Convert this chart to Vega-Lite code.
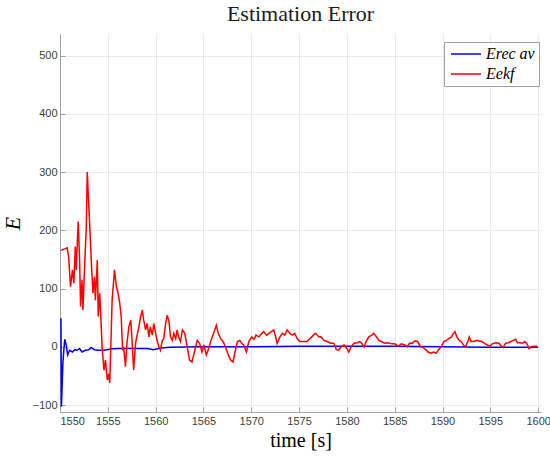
{
  "$schema": "https://vega.github.io/schema/vega-lite/v6.json",
  "width": 481,
  "height": 378,
  "autosize": {"type": "none"},
  "padding": {"left": 60, "top": 34, "right": 9, "bottom": 47},
  "background": "white",
  "title": {"text": "Estimation Error", "font": "Liberation Serif", "fontSize": 22, "fontWeight": "normal", "color": "#1a1a1a", "anchor": "middle", "offset": 8},
  "data": {"values": [
    {"t":1550.1,"v":49,"s":"Erec av"},{"t":1550.15,"v":-103,"s":"Erec av"},{"t":1550.3,"v":-29,"s":"Erec av"},{"t":1550.4,"v":-6,"s":"Erec av"},{"t":1550.5,"v":13,"s":"Erec av"},{"t":1550.65,"v":3,"s":"Erec av"},{"t":1550.8,"v":-14,"s":"Erec av"},{"t":1551.0,"v":-6,"s":"Erec av"},{"t":1551.3,"v":-9,"s":"Erec av"},{"t":1551.55,"v":-5,"s":"Erec av"},{"t":1551.8,"v":-6,"s":"Erec av"},{"t":1552.05,"v":-3,"s":"Erec av"},{"t":1552.3,"v":-9,"s":"Erec av"},{"t":1552.65,"v":-6,"s":"Erec av"},{"t":1553.0,"v":-5,"s":"Erec av"},{"t":1553.25,"v":-1,"s":"Erec av"},{"t":1553.6,"v":-5,"s":"Erec av"},{"t":1554.05,"v":-6,"s":"Erec av"},{"t":1554.6,"v":-6,"s":"Erec av"},{"t":1555.3,"v":-4,"s":"Erec av"},{"t":1556.0,"v":-3,"s":"Erec av"},{"t":1557.4,"v":-3,"s":"Erec av"},{"t":1559.1,"v":-3,"s":"Erec av"},{"t":1559.8,"v":-5,"s":"Erec av"},{"t":1560.5,"v":-2,"s":"Erec av"},{"t":1561.55,"v":-1,"s":"Erec av"},{"t":1564.35,"v":0,"s":"Erec av"},{"t":1570,"v":0,"s":"Erec av"},{"t":1575,"v":1,"s":"Erec av"},{"t":1580,"v":1,"s":"Erec av"},{"t":1585,"v":1,"s":"Erec av"},{"t":1590,"v":0,"s":"Erec av"},{"t":1595,"v":-1,"s":"Erec av"},{"t":1600,"v":-1,"s":"Erec av"},
    {"t":1550.15,"v":165,"s":"Eekf"},{"t":1550.3,"v":167,"s":"Eekf"},{"t":1550.5,"v":168,"s":"Eekf"},{"t":1550.75,"v":170,"s":"Eekf"},{"t":1550.9,"v":155,"s":"Eekf"},{"t":1551.1,"v":103,"s":"Eekf"},{"t":1551.3,"v":132,"s":"Eekf"},{"t":1551.45,"v":109,"s":"Eekf"},{"t":1551.6,"v":172,"s":"Eekf"},{"t":1551.7,"v":132,"s":"Eekf"},{"t":1551.9,"v":215,"s":"Eekf"},{"t":1552.05,"v":149,"s":"Eekf"},{"t":1552.15,"v":69,"s":"Eekf"},{"t":1552.3,"v":115,"s":"Eekf"},{"t":1552.4,"v":63,"s":"Eekf"},{"t":1552.6,"v":149,"s":"Eekf"},{"t":1552.75,"v":206,"s":"Eekf"},{"t":1552.85,"v":300,"s":"Eekf"},{"t":1553.0,"v":246,"s":"Eekf"},{"t":1553.1,"v":212,"s":"Eekf"},{"t":1553.3,"v":137,"s":"Eekf"},{"t":1553.45,"v":92,"s":"Eekf"},{"t":1553.6,"v":120,"s":"Eekf"},{"t":1553.7,"v":80,"s":"Eekf"},{"t":1553.9,"v":149,"s":"Eekf"},{"t":1554.0,"v":52,"s":"Eekf"},{"t":1554.15,"v":92,"s":"Eekf"},{"t":1554.3,"v":40,"s":"Eekf"},{"t":1554.4,"v":0,"s":"Eekf"},{"t":1554.6,"v":-40,"s":"Eekf"},{"t":1554.75,"v":-23,"s":"Eekf"},{"t":1554.95,"v":-57,"s":"Eekf"},{"t":1555.1,"v":-46,"s":"Eekf"},{"t":1555.2,"v":-62,"s":"Eekf"},{"t":1555.3,"v":-6,"s":"Eekf"},{"t":1555.45,"v":80,"s":"Eekf"},{"t":1555.7,"v":132,"s":"Eekf"},{"t":1555.9,"v":103,"s":"Eekf"},{"t":1556.05,"v":94,"s":"Eekf"},{"t":1556.25,"v":74,"s":"Eekf"},{"t":1556.4,"v":52,"s":"Eekf"},{"t":1556.55,"v":-6,"s":"Eekf"},{"t":1556.65,"v":0,"s":"Eekf"},{"t":1556.85,"v":-34,"s":"Eekf"},{"t":1557.0,"v":6,"s":"Eekf"},{"t":1557.2,"v":34,"s":"Eekf"},{"t":1557.4,"v":46,"s":"Eekf"},{"t":1557.55,"v":6,"s":"Eekf"},{"t":1557.7,"v":-40,"s":"Eekf"},{"t":1557.9,"v":6,"s":"Eekf"},{"t":1558.1,"v":23,"s":"Eekf"},{"t":1558.25,"v":34,"s":"Eekf"},{"t":1558.4,"v":49,"s":"Eekf"},{"t":1558.6,"v":63,"s":"Eekf"},{"t":1558.75,"v":46,"s":"Eekf"},{"t":1558.95,"v":29,"s":"Eekf"},{"t":1559.1,"v":40,"s":"Eekf"},{"t":1559.3,"v":17,"s":"Eekf"},{"t":1559.45,"v":34,"s":"Eekf"},{"t":1559.65,"v":20,"s":"Eekf"},{"t":1559.8,"v":40,"s":"Eekf"},{"t":1560.0,"v":23,"s":"Eekf"},{"t":1560.15,"v":11,"s":"Eekf"},{"t":1560.35,"v":0,"s":"Eekf"},{"t":1560.5,"v":-6,"s":"Eekf"},{"t":1560.7,"v":11,"s":"Eekf"},{"t":1560.85,"v":14,"s":"Eekf"},{"t":1561.05,"v":40,"s":"Eekf"},{"t":1561.2,"v":54,"s":"Eekf"},{"t":1561.4,"v":43,"s":"Eekf"},{"t":1561.55,"v":17,"s":"Eekf"},{"t":1561.75,"v":11,"s":"Eekf"},{"t":1561.9,"v":23,"s":"Eekf"},{"t":1562.1,"v":14,"s":"Eekf"},{"t":1562.25,"v":29,"s":"Eekf"},{"t":1562.4,"v":17,"s":"Eekf"},{"t":1562.6,"v":9,"s":"Eekf"},{"t":1562.8,"v":29,"s":"Eekf"},{"t":1563.05,"v":23,"s":"Eekf"},{"t":1563.3,"v":0,"s":"Eekf"},{"t":1563.55,"v":-23,"s":"Eekf"},{"t":1563.8,"v":-26,"s":"Eekf"},{"t":1564.1,"v":-6,"s":"Eekf"},{"t":1564.35,"v":11,"s":"Eekf"},{"t":1564.6,"v":6,"s":"Eekf"},{"t":1564.85,"v":-9,"s":"Eekf"},{"t":1565.05,"v":3,"s":"Eekf"},{"t":1565.3,"v":-14,"s":"Eekf"},{"t":1565.55,"v":-3,"s":"Eekf"},{"t":1565.75,"v":9,"s":"Eekf"},{"t":1566.0,"v":20,"s":"Eekf"},{"t":1566.35,"v":37,"s":"Eekf"},{"t":1566.55,"v":23,"s":"Eekf"},{"t":1566.8,"v":14,"s":"Eekf"},{"t":1567.05,"v":9,"s":"Eekf"},{"t":1567.3,"v":0,"s":"Eekf"},{"t":1567.6,"v":-14,"s":"Eekf"},{"t":1567.85,"v":-23,"s":"Eekf"},{"t":1568.1,"v":-26,"s":"Eekf"},{"t":1568.3,"v":-9,"s":"Eekf"},{"t":1568.55,"v":9,"s":"Eekf"},{"t":1568.8,"v":11,"s":"Eekf"},{"t":1569.0,"v":6,"s":"Eekf"},{"t":1569.2,"v":3,"s":"Eekf"},{"t":1569.5,"v":-9,"s":"Eekf"},{"t":1569.75,"v":9,"s":"Eekf"},{"t":1570.05,"v":17,"s":"Eekf"},{"t":1570.3,"v":13,"s":"Eekf"},{"t":1570.5,"v":20,"s":"Eekf"},{"t":1570.8,"v":17,"s":"Eekf"},{"t":1571.1,"v":23,"s":"Eekf"},{"t":1571.3,"v":26,"s":"Eekf"},{"t":1571.6,"v":20,"s":"Eekf"},{"t":1571.85,"v":23,"s":"Eekf"},{"t":1572.1,"v":26,"s":"Eekf"},{"t":1572.35,"v":29,"s":"Eekf"},{"t":1572.55,"v":17,"s":"Eekf"},{"t":1572.7,"v":6,"s":"Eekf"},{"t":1573.0,"v":17,"s":"Eekf"},{"t":1573.25,"v":23,"s":"Eekf"},{"t":1573.5,"v":20,"s":"Eekf"},{"t":1573.75,"v":29,"s":"Eekf"},{"t":1574.05,"v":23,"s":"Eekf"},{"t":1574.3,"v":20,"s":"Eekf"},{"t":1574.55,"v":23,"s":"Eekf"},{"t":1574.8,"v":14,"s":"Eekf"},{"t":1575.1,"v":9,"s":"Eekf"},{"t":1575.45,"v":9,"s":"Eekf"},{"t":1575.8,"v":9,"s":"Eekf"},{"t":1576.15,"v":14,"s":"Eekf"},{"t":1576.5,"v":20,"s":"Eekf"},{"t":1576.75,"v":23,"s":"Eekf"},{"t":1577.05,"v":17,"s":"Eekf"},{"t":1577.3,"v":17,"s":"Eekf"},{"t":1577.6,"v":11,"s":"Eekf"},{"t":1577.95,"v":9,"s":"Eekf"},{"t":1578.3,"v":6,"s":"Eekf"},{"t":1578.65,"v":6,"s":"Eekf"},{"t":1578.9,"v":-5,"s":"Eekf"},{"t":1579.15,"v":-6,"s":"Eekf"},{"t":1579.4,"v":0,"s":"Eekf"},{"t":1579.7,"v":3,"s":"Eekf"},{"t":1580.0,"v":-3,"s":"Eekf"},{"t":1580.2,"v":-9,"s":"Eekf"},{"t":1580.45,"v":0,"s":"Eekf"},{"t":1580.75,"v":6,"s":"Eekf"},{"t":1581.1,"v":7,"s":"Eekf"},{"t":1581.35,"v":9,"s":"Eekf"},{"t":1581.55,"v":6,"s":"Eekf"},{"t":1581.8,"v":0,"s":"Eekf"},{"t":1582.0,"v":9,"s":"Eekf"},{"t":1582.3,"v":17,"s":"Eekf"},{"t":1582.6,"v":20,"s":"Eekf"},{"t":1582.8,"v":23,"s":"Eekf"},{"t":1583.05,"v":18,"s":"Eekf"},{"t":1583.35,"v":11,"s":"Eekf"},{"t":1583.6,"v":9,"s":"Eekf"},{"t":1583.95,"v":6,"s":"Eekf"},{"t":1584.3,"v":7,"s":"Eekf"},{"t":1584.7,"v":5,"s":"Eekf"},{"t":1585.0,"v":5,"s":"Eekf"},{"t":1585.4,"v":1,"s":"Eekf"},{"t":1585.7,"v":5,"s":"Eekf"},{"t":1586.05,"v":3,"s":"Eekf"},{"t":1586.3,"v":0,"s":"Eekf"},{"t":1586.55,"v":6,"s":"Eekf"},{"t":1586.85,"v":6,"s":"Eekf"},{"t":1587.1,"v":10,"s":"Eekf"},{"t":1587.4,"v":9,"s":"Eekf"},{"t":1587.7,"v":0,"s":"Eekf"},{"t":1587.95,"v":-1,"s":"Eekf"},{"t":1588.25,"v":-5,"s":"Eekf"},{"t":1588.5,"v":-9,"s":"Eekf"},{"t":1588.8,"v":-11,"s":"Eekf"},{"t":1589.05,"v":-9,"s":"Eekf"},{"t":1589.35,"v":-11,"s":"Eekf"},{"t":1589.6,"v":-5,"s":"Eekf"},{"t":1589.9,"v":1,"s":"Eekf"},{"t":1590.15,"v":9,"s":"Eekf"},{"t":1590.4,"v":11,"s":"Eekf"},{"t":1590.65,"v":14,"s":"Eekf"},{"t":1590.95,"v":17,"s":"Eekf"},{"t":1591.1,"v":22,"s":"Eekf"},{"t":1591.3,"v":26,"s":"Eekf"},{"t":1591.5,"v":17,"s":"Eekf"},{"t":1591.75,"v":11,"s":"Eekf"},{"t":1591.95,"v":9,"s":"Eekf"},{"t":1592.2,"v":3,"s":"Eekf"},{"t":1592.4,"v":0,"s":"Eekf"},{"t":1592.65,"v":9,"s":"Eekf"},{"t":1592.8,"v":17,"s":"Eekf"},{"t":1593.0,"v":9,"s":"Eekf"},{"t":1593.3,"v":9,"s":"Eekf"},{"t":1593.55,"v":11,"s":"Eekf"},{"t":1593.85,"v":10,"s":"Eekf"},{"t":1594.15,"v":9,"s":"Eekf"},{"t":1594.4,"v":6,"s":"Eekf"},{"t":1594.7,"v":3,"s":"Eekf"},{"t":1594.95,"v":1,"s":"Eekf"},{"t":1595.2,"v":5,"s":"Eekf"},{"t":1595.55,"v":7,"s":"Eekf"},{"t":1595.9,"v":6,"s":"Eekf"},{"t":1596.15,"v":1,"s":"Eekf"},{"t":1596.35,"v":-1,"s":"Eekf"},{"t":1596.6,"v":6,"s":"Eekf"},{"t":1596.85,"v":7,"s":"Eekf"},{"t":1597.15,"v":9,"s":"Eekf"},{"t":1597.4,"v":11,"s":"Eekf"},{"t":1597.65,"v":13,"s":"Eekf"},{"t":1597.85,"v":7,"s":"Eekf"},{"t":1598.1,"v":7,"s":"Eekf"},{"t":1598.35,"v":6,"s":"Eekf"},{"t":1598.6,"v":9,"s":"Eekf"},{"t":1598.8,"v":6,"s":"Eekf"},{"t":1599.05,"v":-3,"s":"Eekf"},{"t":1599.3,"v":0,"s":"Eekf"},{"t":1599.55,"v":1,"s":"Eekf"},{"t":1599.9,"v":1,"s":"Eekf"}
  ]},
  "mark": {"type": "line", "strokeWidth": 1.5, "clip": true},
  "encoding": {
    "x": {"field": "t", "type": "quantitative",
      "scale": {"domain": [1550, 1600.3], "nice": false, "zero": false},
      "axis": {"title": "time [s]", "values": [1550,1555,1560,1565,1570,1575,1580,1585,1590,1595,1600], "format": "d"}},
    "y": {"field": "v", "type": "quantitative",
      "scale": {"domain": [-112, 537], "nice": false, "zero": false},
      "axis": {"title": "E", "values": [-100,0,100,200,300,400,500], "titleFontStyle": "italic", "titleFontSize": 22, "titlePadding": 8}},
    "color": {"field": "s", "type": "nominal",
      "scale": {"domain": ["Erec av", "Eekf"], "range": ["#0000ff", "#ff0000"]},
      "legend": {"title": null, "orient": "none", "legendX": 384, "legendY": 8,
        "symbolType": "M-1,0H5", "symbolSize": 100, "symbolStrokeWidth": 1.5,
        "labelFont": "Liberation Serif", "labelFontStyle": "italic", "labelFontSize": 16, "labelColor": "#000000", "labelOffset": 22,
        "strokeColor": "#a0a0a0", "fillColor": "#ffffff", "padding": 4, "rowPadding": 4}}
  },
  "config": {
    "view": {"stroke": null},
    "axis": {
      "domainColor": "#a0a0a0", "domainWidth": 1, "tickColor": "#a0a0a0", "tickSize": -5,
      "gridColor": "#ebebeb", "gridWidth": 1,
      "labelFont": "Liberation Sans", "labelFontSize": 11, "labelColor": "#404040", "labelPadding": 8,
      "titleFont": "Liberation Serif", "titleFontSize": 20, "titleFontWeight": "normal", "titleColor": "#000000"
    },
    "axisX": {"titlePadding": 4}
  }
}
